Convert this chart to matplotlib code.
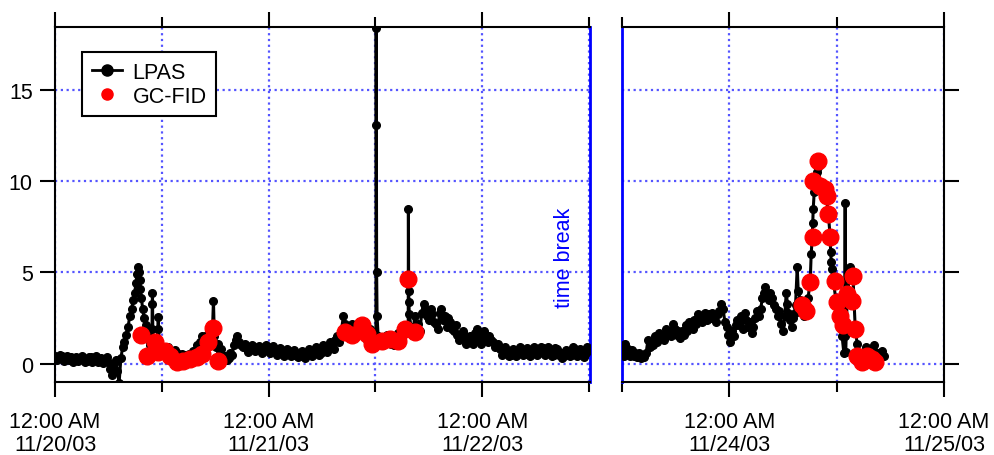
import numpy as np
import matplotlib
matplotlib.use("Agg")
import matplotlib.pyplot as plt
import matplotlib.dates as mdates
from matplotlib.lines import Line2D

plt.rcParams['font.family'] = ['Liberation Sans', 'DejaVu Sans']
plt.rcParams['font.size'] = 15.5

# LPAS, first period: (hours after 11/20/03 00:00, value)
lpas_left = [
    (0.0, 0.45), (0.2, 0.2), (0.4, 0.35), (0.6, 0.5), (0.8, 0.4), (1.0, 0.15), (1.2, 0.3),
    (1.4, 0.45), (1.6, 0.2), (1.8, 0.35), (2.0, 0.1), (2.2, 0.3), (2.4, 0.35), (2.6, 0.15),
    (2.8, 0.25), (3.0, 0.45), (3.2, 0.3), (3.4, 0.1), (3.6, 0.15), (3.8, 0.35), (4.0, 0.35),
    (4.2, 0.1), (4.4, 0.2), (4.6, 0.4), (4.8, 0.1), (5.0, 0.25), (5.2, 0.3), (5.4, 0.05),
    (5.6, 0.2), (5.8, 0.35), (6.0, 0.1), (6.2, -0.3), (6.4, -0.6), (6.6, 0.0), (6.8, 0.2),
    (7.0, -0.4), (7.2, -1.05), (7.4, 0.3), (7.6, 0.9), (7.8, 1.2), (8.0, 1.6), (8.2, 2.0),
    (8.4, 2.6), (8.6, 3.0), (8.8, 3.5), (8.95, 3.9), (9.1, 4.4), (9.2, 4.9), (9.3, 5.3),
    (9.4, 5.0), (9.5, 4.6), (9.6, 4.1), (9.7, 3.6), (9.85, 3.0), (10.0, 2.5), (10.2, 2.1),
    (10.4, 1.8), (10.55, 1.3), (10.7, 1.0), (10.9, 1.9), (10.92, 3.3), (10.95, 3.9),
    (11.0, 1.1), (11.2, 1.3), (11.4, 0.8), (11.55, 1.9), (11.6, 2.55), (11.7, 1.0),
    (11.9, 0.6), (12.1, 0.8), (12.3, 0.5), (12.5, 0.6), (12.7, 0.9), (12.9, 0.7),
    (13.1, 0.4), (13.3, 0.5), (13.5, 0.75), (13.7, 0.6), (13.9, 0.35), (14.1, 0.3),
    (14.3, 0.55), (14.5, 0.5), (14.7, 0.25), (14.9, 0.3), (15.1, 0.55), (15.3, 0.4),
    (15.5, 0.7), (15.7, 0.6), (15.9, 1.0), (16.1, 0.8), (16.3, 1.2), (16.5, 1.5),
    (16.7, 1.0), (16.9, 1.2), (17.1, 1.6), (17.3, 1.8), (17.5, 1.3), (17.7, 2.0),
    (17.8, 3.45), (17.9, 1.5), (18.1, 0.9), (18.3, 1.1), (18.5, 0.6), (18.7, 0.8),
    (18.9, 0.3), (19.1, 0.4), (19.3, 0.2), (19.5, 0.3), (19.7, 0.6), (19.9, 0.5),
    (20.1, 1.0), (20.3, 1.3), (20.5, 1.5), (20.7, 1.2), (20.9, 1.0), (21.1, 0.9),
    (21.3, 1.1), (21.5, 0.85), (21.7, 0.65), (21.9, 0.8), (22.1, 1.0), (22.3, 0.9),
    (22.5, 0.7), (22.7, 0.75), (22.9, 0.95), (23.1, 0.85), (23.3, 0.6), (23.5, 0.7),
    (23.7, 1.0), (23.9, 0.9), (24.1, 0.6), (24.3, 0.7), (24.5, 0.95), (24.7, 0.8),
    (24.9, 0.5), (25.1, 0.6), (25.3, 0.85), (25.5, 0.7), (25.7, 0.45), (25.9, 0.55),
    (26.1, 0.8), (26.3, 0.7), (26.5, 0.4), (26.7, 0.5), (26.9, 0.75), (27.1, 0.6),
    (27.3, 0.35), (27.5, 0.45), (27.7, 0.7), (27.9, 0.6), (28.1, 0.3), (28.3, 0.5),
    (28.5, 0.8), (28.7, 0.7), (28.9, 0.4), (29.1, 0.6), (29.3, 0.9), (29.5, 0.8),
    (29.7, 0.5), (29.9, 0.6), (30.1, 1.0), (30.3, 0.9), (30.5, 0.65), (30.7, 0.8),
    (30.9, 1.2), (31.1, 1.0), (31.3, 0.8), (31.5, 1.3), (31.7, 1.5), (31.9, 1.2),
    (32.1, 1.6), (32.4, 2.6), (32.6, 2.2), (32.8, 1.9), (33.0, 1.4), (33.2, 1.6),
    (33.4, 2.2), (33.6, 2.0), (33.8, 1.5), (34.0, 1.7), (34.2, 2.3), (34.4, 2.1),
    (34.6, 1.6), (34.8, 1.9), (35.0, 1.3), (35.2, 1.5), (35.4, 1.9), (35.6, 1.4),
    (35.8, 1.2), (36.05, 1.6), (36.08, 18.4), (36.1, 13.1), (36.13, 5.0), (36.18, 2.6),
    (36.3, 1.5), (36.5, 1.1), (36.7, 1.4), (36.9, 1.0), (37.1, 1.3), (37.3, 1.6),
    (37.5, 1.5), (37.7, 1.1), (37.9, 1.3), (38.1, 1.0), (38.3, 1.2), (38.5, 1.7),
    (38.7, 1.5), (38.9, 1.2), (39.1, 1.6), (39.3, 2.1), (39.5, 1.9), (39.68, 2.0),
    (39.7, 8.5), (39.73, 4.0), (39.76, 3.4), (39.8, 2.7), (40.0, 2.0), (40.2, 1.6),
    (40.4, 2.6), (40.6, 2.1), (40.8, 2.2), (41.0, 1.8), (41.2, 2.8), (41.4, 3.3),
    (41.6, 3.0), (41.8, 2.6), (42.0, 2.4), (42.2, 3.0), (42.4, 2.7), (42.6, 2.3),
    (42.8, 2.2), (43.0, 1.9), (43.2, 2.8), (43.4, 3.0), (43.6, 2.4), (43.8, 2.6),
    (44.0, 2.0), (44.2, 2.5), (44.4, 2.3), (44.6, 1.9), (44.8, 1.8), (45.0, 2.1),
    (45.2, 1.6), (45.4, 1.3), (45.6, 1.4), (45.8, 1.8), (46.0, 1.6), (46.2, 1.1),
    (46.4, 1.2), (46.6, 1.5), (46.8, 1.4), (47.0, 1.1), (47.2, 1.7), (47.4, 1.9),
    (47.6, 1.3), (47.8, 1.1), (48.0, 1.6), (48.2, 1.8), (48.4, 1.4), (48.6, 1.2),
    (48.8, 1.5), (49.0, 1.3), (49.2, 1.2), (49.4, 0.9), (49.6, 1.0), (49.8, 1.1),
    (50.0, 0.8), (50.2, 0.5), (50.4, 0.6), (50.6, 0.9), (50.8, 0.7), (51.0, 0.4),
    (51.2, 0.5), (51.4, 0.8), (51.6, 0.75), (51.8, 0.45), (52.0, 0.6), (52.2, 0.9),
    (52.4, 0.8), (52.6, 0.5), (52.8, 0.55), (53.0, 0.85), (53.2, 0.75), (53.4, 0.45),
    (53.6, 0.6), (53.8, 0.9), (54.0, 0.8), (54.2, 0.5), (54.4, 0.6), (54.6, 0.9),
    (54.8, 0.85), (55.0, 0.5), (55.2, 0.6), (55.4, 0.9), (55.6, 0.7), (55.8, 0.4),
    (56.0, 0.5), (56.2, 0.85), (56.4, 0.8), (56.6, 0.5), (56.8, 0.6), (57.0, 0.3),
    (57.2, 0.4), (57.4, 0.75), (57.6, 0.7), (57.8, 0.45), (58.0, 0.5), (58.2, 0.9),
    (58.4, 0.8), (58.6, 0.4), (58.8, 0.5), (59.0, 0.8), (59.2, 0.7), (59.4, 0.35),
    (59.6, 0.6), (59.8, 0.9), (60.0, 0.75),
]

# LPAS, second period (after the time break)
lpas_right = [
    (84.1, 0.9), (84.2, 0.4), (84.3, 1.1), (84.5, 0.6), (84.7, 0.8), (84.9, 0.45),
    (85.1, 0.75), (85.3, 0.4), (85.5, 0.6), (85.7, 0.35), (85.9, 0.6), (86.1, 0.3),
    (86.3, 0.5), (86.5, 0.35), (86.7, 0.6), (86.9, 1.3), (87.1, 0.9), (87.3, 1.2),
    (87.5, 1.0), (87.7, 1.5), (87.9, 1.2), (88.1, 1.7), (88.3, 1.4), (88.5, 1.6),
    (88.7, 1.3), (88.9, 1.9), (89.1, 1.6), (89.3, 1.8), (89.5, 1.5), (89.7, 2.2),
    (89.9, 1.9), (90.1, 1.6), (90.3, 1.8), (90.5, 1.4), (90.7, 1.8), (90.9, 1.6),
    (91.1, 2.1), (91.3, 1.8), (91.5, 2.3), (91.7, 2.0), (91.9, 1.9), (92.1, 2.4),
    (92.3, 2.2), (92.5, 2.7), (92.7, 2.5), (92.9, 2.3), (93.1, 2.6), (93.3, 2.8),
    (93.5, 2.4), (93.7, 2.7), (93.9, 2.5), (94.1, 2.8), (94.3, 2.5), (94.5, 2.3),
    (94.7, 2.7), (94.9, 2.9), (95.1, 3.3), (95.3, 3.0), (95.5, 2.3), (95.7, 2.0),
    (95.9, 1.6), (96.1, 1.2), (96.3, 1.8), (96.5, 1.5), (96.7, 2.1), (96.9, 2.4),
    (97.1, 2.1), (97.3, 2.6), (97.5, 1.9), (97.7, 2.8), (97.9, 2.4), (98.1, 2.0),
    (98.3, 2.3), (98.5, 1.7), (98.7, 2.0), (98.9, 2.5), (99.1, 2.9), (99.3, 2.6),
    (99.5, 3.0), (99.7, 3.6), (99.9, 3.9), (100.0, 4.2), (100.2, 3.8), (100.4, 3.5),
    (100.6, 3.9), (100.8, 3.6), (101.0, 3.2), (101.2, 3.0), (101.4, 2.6), (101.6, 2.9),
    (101.8, 2.2), (102.03, 1.8), (102.2, 2.6), (102.36, 3.9), (102.5, 3.3), (102.6, 2.8),
    (102.81, 2.4), (103.0, 2.0), (103.14, 2.5), (103.3, 2.8), (103.4, 3.2), (103.59, 5.3),
    (103.7, 4.0), (103.93, 3.5), (104.1, 2.8), (104.26, 3.1), (104.4, 2.6), (104.6, 2.9),
    (104.8, 3.6), (105.04, 4.5), (105.15, 6.0), (105.27, 6.9), (105.33, 7.7), (105.38, 8.5),
    (105.49, 9.4), (105.6, 10.0), (105.8, 10.5), (105.93, 10.8), (106.16, 9.9),
    (106.49, 9.6), (106.83, 9.2), (107.05, 8.3), (107.27, 7.0), (107.33, 6.1),
    (107.39, 5.6), (107.45, 5.2), (107.61, 4.6), (107.94, 3.4), (108.17, 2.7),
    (108.39, 2.2), (108.61, 1.5), (108.8, 0.6), (108.9, 1.5), (108.95, 8.8), (109.0, 0.65),
    (109.17, 3.5), (109.51, 5.3), (109.84, 4.6), (110.07, 2.0), (110.29, 1.1), (110.4, 0.4),
    (110.85, 0.3), (111.29, 0.9), (111.74, 0.8), (112.19, 1.0), (112.63, 0.6),
    (113.08, 0.7), (113.3, 0.4),
]

# GC-FID samples
gc_h = [9.67, 10.34, 11.24, 11.58, 12.37, 12.93, 13.71, 14.39, 15.18, 15.96,
        16.52, 17.2, 17.76, 18.32,
        32.6, 33.39, 34.51, 35.07, 35.63, 36.76, 37.66, 38.56, 39.34, 39.68, 40.47,
        104.15, 104.6, 105.04, 105.35, 105.4, 105.93, 106.16, 106.72, 106.94, 107.05,
        107.27, 107.83, 108.06, 108.39, 108.73, 109.17, 109.73, 109.84, 110.07, 110.29,
        110.85, 111.4, 111.96, 112.29]
gc_v = [1.55, 0.4, 1.2, 0.65, 0.7, 0.45, 0.1, 0.15, 0.27, 0.38,
        0.55, 1.2, 1.95, 0.15,
        1.75, 1.55, 2.1, 1.65, 1.1, 1.25, 1.35, 1.25, 1.9, 4.65, 1.75,
        3.2, 2.9, 4.5, 6.95, 10.0, 11.1, 9.75, 9.6, 9.2, 8.2,
        6.95, 4.55, 3.4, 2.6, 2.1, 3.8, 3.45, 4.8, 1.9, 0.4,
        0.1, 0.4, 0.27, 0.1]

y_ticks = [0, 5, 10, 15]
left_range_h = (0, 60.1)
right_range_h = (84, 120)

start = np.datetime64('2003-11-20T00:00:00')


def to_time(hours):
    return start + (np.asarray(hours) * 3600).astype('timedelta64[s]')


grid_color = '#5555ff'
fig = plt.figure(figsize=(9.94, 4.56), dpi=100)
ax_l = fig.add_axes([55 / 994, 73 / 456, 535 / 994, 355 / 456])
ax_r = fig.add_axes([622 / 994, 73 / 456, 322 / 994, 355 / 456])

for ax, series, rng in [(ax_l, lpas_left, left_range_h),
                        (ax_r, lpas_right, right_range_h)]:
    hrs, vals = zip(*series)
    ax.plot(to_time(hrs), vals, color='black', lw=2.2, marker='o', ms=5.5, zorder=3)
    ax.plot(to_time(gc_h), gc_v, ls='none', marker='o', ms=12, color='red',
            mec='red', zorder=4)
    ax.set_xlim(to_time(rng[0]), to_time(rng[1]))
    ax.set_ylim(-1.0, 18.45)
    ax.set_yticks(y_ticks)
    ax.xaxis.set_major_locator(mdates.HourLocator(byhour=[0]))
    ax.xaxis.set_minor_locator(mdates.HourLocator(byhour=[12]))
    ax.xaxis.set_major_formatter(mdates.DateFormatter('%I:%M %p\n%m/%d/%y'))
    ax.set_axisbelow(True)
    ax.grid(True, which='both', axis='x', color=grid_color, ls=(0, (1, 1.6)), lw=1.6)
    ax.grid(True, which='major', axis='y', color=grid_color, ls=(0, (1, 1.6)), lw=1.6)
    ax.tick_params(axis='x', which='major', direction='out', length=11, width=1.5,
                   top=True, pad=10)
    ax.tick_params(axis='x', which='minor', direction='out', length=7, width=1.5,
                   top=True)
    for lbl in ax.get_xticklabels():
        lbl.set_linespacing(1.1)
    for s in ax.spines.values():
        s.set_linewidth(1.5)

ax_l.tick_params(axis='y', direction='out', length=11, width=1.5, right=False, pad=5)
ax_l.spines['right'].set_color('blue')
ax_l.spines['right'].set_linewidth(2)
ax_r.tick_params(axis='y', direction='out', length=11, width=1.5, left=False,
                 labelleft=False, right=True)
ax_r.spines['left'].set_color('blue')
ax_r.spines['left'].set_linewidth(2)

ax_l.text(0.952, 0.352, 'time break', transform=ax_l.transAxes, rotation=90,
          color='blue', ha='center', va='center')

handles = [Line2D([], [], color='black', lw=2, marker='o', ms=8),
           Line2D([], [], ls='none', marker='o', ms=8, color='red')]
leg = ax_l.legend(handles, ['LPAS', 'GC-FID'], loc='upper left',
                  bbox_to_anchor=(0.0505, 0.93), borderaxespad=0, fancybox=False,
                  edgecolor='black', framealpha=1, handlelength=1.4,
                  handletextpad=0.5, labelspacing=0.15, borderpad=0.45)
leg.get_frame().set_linewidth(1.5)

fig.savefig('out.png', dpi=100)
